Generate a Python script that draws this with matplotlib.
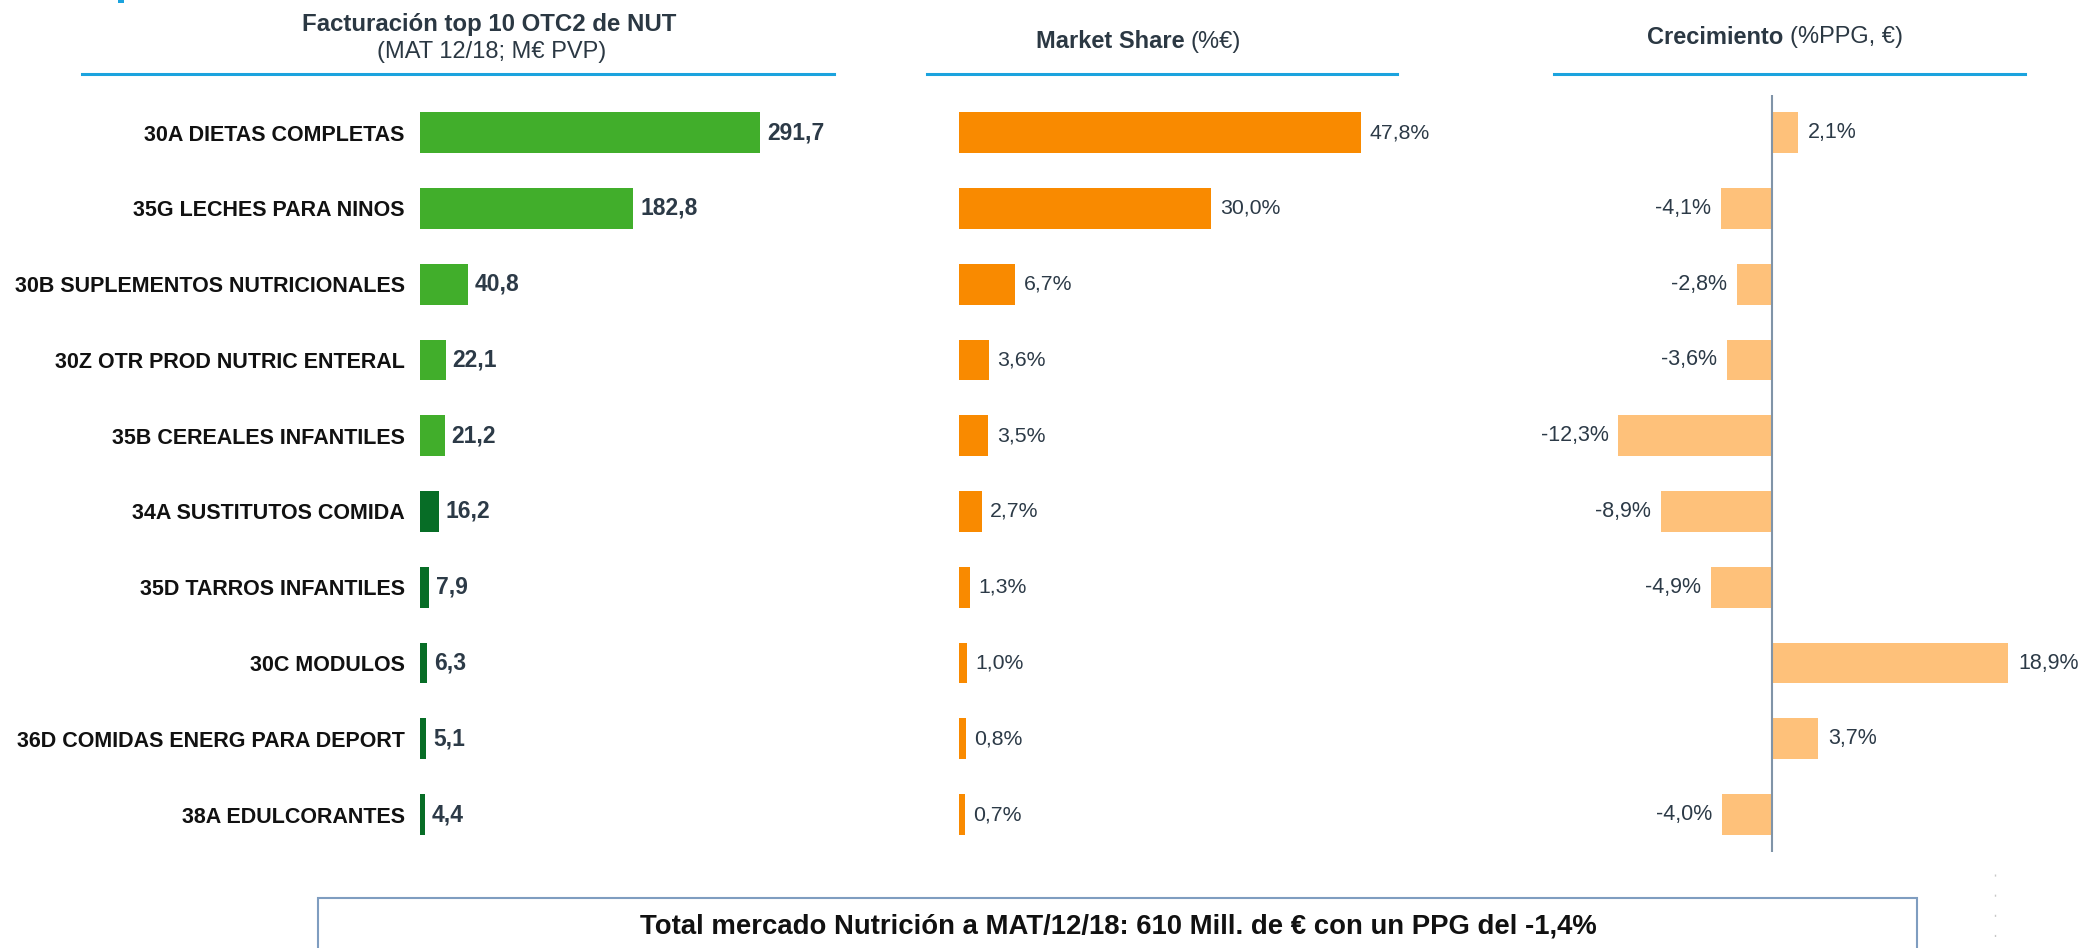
import matplotlib
matplotlib.use("Agg")
import matplotlib.pyplot as plt
from matplotlib.patches import Rectangle
from matplotlib.lines import Line2D

plt.rcParams['font.family'] = ['Liberation Sans', 'DejaVu Sans']

categories = ["30A DIETAS COMPLETAS", "35G LECHES PARA NINOS", "30B SUPLEMENTOS NUTRICIONALES",
              "30Z OTR PROD NUTRIC ENTERAL", "35B CEREALES INFANTILES", "34A SUSTITUTOS COMIDA",
              "35D TARROS INFANTILES", "30C MODULOS", "36D COMIDAS ENERG PARA DEPORT",
              "38A EDULCORANTES"]
facturacion = [291.7, 182.8, 40.8, 22.1, 21.2, 16.2, 7.9, 6.3, 5.1, 4.4]
market_share = [47.8, 30.0, 6.7, 3.6, 3.5, 2.7, 1.3, 1.0, 0.8, 0.7]
crecimiento = [2.1, -4.1, -2.8, -3.6, -12.3, -8.9, -4.9, 18.9, 3.7, -4.0]

title_fact = "Facturación top 10 OTC2 de NUT"
sub_fact = "(MAT 12/18; M€ PVP)"
total_text = "Total mercado Nutrición a MAT/12/18: 610 Mill. de € con un PPG del -1,4%"

W, H = 2080, 948
GREEN = '#41ae2b'
DARK_GREEN = '#076d26'
ORANGE = '#f98a00'
LIGHT_ORANGE = '#fec17a'
BLUE_LINE = '#1ba3de'
TXT = '#2c3a47'
bar_colors = [GREEN] * 5 + [DARK_GREEN] * 5


def fmt(v):
    return f"{v:.1f}".replace('.', ',')


def px_axes(x0, x1, y0, y1):
    # pixel box (top-left origin) -> figure axes
    return fig.add_axes([x0 / W, 1 - y1 / H, (x1 - x0) / W, (y1 - y0) / H])


fig = plt.figure(figsize=(W / 100, H / 100), dpi=100)

top, bottom = 94.8, 852.4
rows = list(range(len(categories)))
bh = 0.54

# left panel
ax1 = px_axes(420, 900, top, bottom)
ax1.barh(rows, facturacion, height=bh, color=bar_colors)
ax1.set_xlim(0, 480 / 1.1656)
ax1.set_ylim(9.5, -0.5)
ax1.set_yticks(rows)
ax1.set_yticklabels(categories, fontsize=15.5, fontweight='bold', color='#111111')
ax1.tick_params(axis='y', length=0, pad=11)
ax1.set_xticks([])
for i, v in enumerate(facturacion):
    ax1.annotate(fmt(v), (v, i), xytext=(5, 0), textcoords='offset points',
                 va='center', ha='left', fontsize=16.5, fontweight='bold', color=TXT)

# middle panel
ax2 = px_axes(959, 1400, top, bottom)
ax2.barh(rows, market_share, height=bh, color=ORANGE)
ax2.set_xlim(0, 441 / 8.41)
ax2.set_ylim(9.5, -0.5)
ax2.set_xticks([])
ax2.set_yticks([])
for i, v in enumerate(market_share):
    ax2.annotate(fmt(v) + '%', (v, i), xytext=(6, 0), textcoords='offset points',
                 va='center', ha='left', fontsize=15.3, color=TXT)

# right panel
ax3 = px_axes(1550, 2070, top, bottom)
ax3.barh(rows, crecimiento, height=bh, color=LIGHT_ORANGE)
ax3.set_xlim(-(1772 - 1550) / 12.5, (2070 - 1772) / 12.5)
ax3.set_ylim(9.5, -0.5)
ax3.axvline(0, color='#8094a8', lw=1.5)
ax3.set_xticks([])
ax3.set_yticks([])
for i, v in enumerate(crecimiento):
    off = 7 if v >= 0 else -7
    ax3.annotate(fmt(v) + '%', (v, i), xytext=(off, 0), textcoords='offset points',
                 va='center', ha='left' if v >= 0 else 'right', fontsize=15.5, color=TXT)

for ax in (ax1, ax2, ax3):
    for s in ax.spines.values():
        s.set_visible(False)
    ax.patch.set_alpha(0)

# headers
fig.text(489 / W, 1 - 25 / H, title_fact, ha='center', va='center',
         fontsize=17.3, fontweight='bold', color='#2b3843')
fig.text(492 / W, 1 - 52 / H, sub_fact, ha='center', va='center',
         fontsize=17, color='#2b3843')

renderer = fig.canvas.get_renderer()


def mixed_header(cx, cy, bold, normal):
    t1 = fig.text(0, 1 - cy / H, bold, ha='left', va='center', fontsize=17,
                  fontweight='bold', color='#2b3843')
    t2 = fig.text(0, 1 - cy / H, normal, ha='left', va='center', fontsize=17,
                  color='#2b3843')
    w1 = t1.get_window_extent(renderer).width
    w2 = t2.get_window_extent(renderer).width
    gap = 6
    x0 = cx - (w1 + gap + w2) / 2
    t1.set_x(x0 / W)
    t2.set_x((x0 + w1 + gap) / W)


mixed_header(1138, 42, "Market Share", "(%€)")
mixed_header(1775, 37, "Crecimiento", "(%PPG, €)")

for x0, x1 in [(82, 834), (927, 1397), (1554, 2025)]:
    fig.add_artist(Line2D([x0 / W, x1 / W], [1 - 74 / H] * 2, color=BLUE_LINE, lw=2.2))

# bottom box
fig.add_artist(Rectangle((318 / W, -0.05), (1917 - 318) / W, 0.05 + (1 - 898 / H),
                         fill=False, edgecolor='#7f9dc0', lw=1.5))
fig.text(1118 / W, 1 - 927 / H, total_text, ha='center', va='center',
         fontsize=19.8, fontweight='bold', color='#111111')

fig.add_artist(Line2D([1995 / W] * 2, [1 - 874 / H, 0], color='#c8c8c8', lw=1,
                      linestyle=(0, (1.5, 13))))
fig.add_artist(Rectangle((118 / W, 1 - 3 / H), 6 / W, 3 / H, color='#1ba3de', lw=0))

fig.savefig('out.png', dpi=100)
